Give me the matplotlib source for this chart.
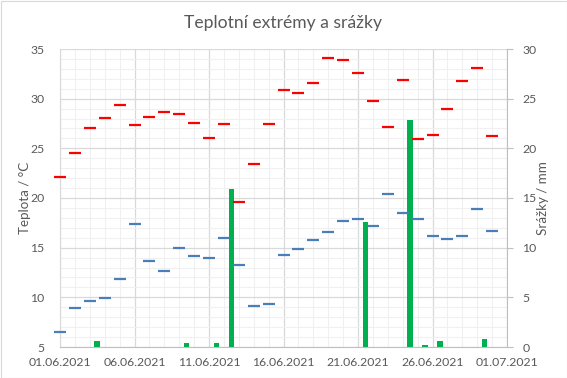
import matplotlib
matplotlib.use("Agg")
import matplotlib.pyplot as plt
import matplotlib.dates as mdates
from matplotlib.ticker import MultipleLocator
import numpy as np
import datetime as dt

plt.rcParams['font.family'] = ['Lato', 'DejaVu Sans']

# ---- data ----
start = dt.date(2021, 6, 1)
dates = [start + dt.timedelta(days=i) for i in range(30)]
t_max = [22.1, 24.5, 27.0, 28.1, 29.4, 27.3, 28.2, 28.7, 28.5, 27.6,
         26.0, 27.4, 19.6, 23.4, 27.5, 30.9, 30.6, 31.6, 34.1, 33.9,
         32.6, 29.8, 27.1, 31.9, 25.9, 26.3, 29.0, 31.8, 33.1, 26.2]
t_min = [6.5, 8.9, 9.6, 9.9, 11.8, 17.4, 13.7, 12.7, 15.0, 14.2,
         14.0, 16.0, 13.3, 9.1, 9.3, 14.3, 14.9, 15.8, 16.6, 17.7,
         17.9, 17.2, 20.4, 18.5, 17.9, 16.2, 15.9, 16.2, 18.9, 16.7]
precip = [0, 0, 0.6, 0, 0, 0, 0, 0, 0.4, 0,
          0.4, 15.9, 0, 0, 0, 0, 0, 0, 0, 0,
          12.6, 0, 0, 22.9, 0.2, 0.6, 0, 0, 0.8, 0]
title = "Teplotní extrémy a srážky"
ylabel_left = "Teplota / °C"
ylabel_right = "Srážky / mm"

# ---- style ----
txt = '#595959'
grid_major = '#D9D9D9'
grid_minor = '#F0F0F0'
axis_col = '#BFBFBF'

fig = plt.figure(figsize=(5.67, 3.78), dpi=100)
fig.patch.set_facecolor('white')
L, R, B, T = 60/567, 507/567, 1-347/378, 1-49/378
ax = fig.add_axes([L, B, R-L, T-B])
ax2 = ax.twinx()   # precipitation (right)
ax3 = ax.twinx()   # temperatures drawn on top

xd = mdates.date2num(dates)
x0 = mdates.date2num(start)
x1 = mdates.date2num(dt.date(2021, 7, 1))

for a in (ax, ax2, ax3):
    a.set_xlim(x0, x1)

ax.set_ylim(5, 35)
ax3.set_ylim(5, 35)
ax2.set_ylim(0, 30)

# grid on base axes
ax.xaxis.set_major_locator(mdates.DayLocator(bymonthday=[1, 6, 11, 16, 21, 26]))
ax.xaxis.set_minor_locator(mdates.DayLocator())
ax.xaxis.set_major_formatter(mdates.DateFormatter('%d.%m.%Y'))
ax.yaxis.set_major_locator(MultipleLocator(5))
ax.yaxis.set_minor_locator(MultipleLocator(1))
ax.grid(which='minor', color=grid_minor, lw=0.8, zorder=0)
ax.grid(which='major', color=grid_major, lw=0.9, zorder=0)
ax.set_axisbelow(True)
ax.tick_params(axis='both', which='both', length=0, colors=txt, labelsize=8.8)
ax.tick_params(axis='x', pad=7)
ax.tick_params(axis='y', pad=11)
for s in ax.spines.values():
    s.set_visible(False)
ax.spines['bottom'].set_visible(True)
ax.spines['bottom'].set_color(axis_col)
ax.spines['left'].set_visible(True)
ax.spines['left'].set_color(grid_major)

# precipitation bars
ax2.bar(xd + 0.5, precip, width=0.38, color='#00B050', zorder=2)
ax2.yaxis.set_major_locator(MultipleLocator(5))
ax2.tick_params(axis='y', which='major', length=4, color=axis_col, colors=txt,
                labelsize=8.8, pad=7)
ax2.tick_params(axis='y', which='major', color=axis_col)
for s in ax2.spines.values():
    s.set_visible(False)
ax2.spines['right'].set_visible(True)
ax2.spines['right'].set_color(axis_col)

# temperatures
ax3.plot(xd, t_max, ls='none', marker='_', ms=8.4, mew=1.6, color='#FF0000', clip_on=False)
ax3.plot(xd, t_min, ls='none', marker='_', ms=8.4, mew=1.6, color='#4A7EBB', clip_on=False)
ax3.yaxis.set_visible(False)
for s in ax3.spines.values():
    s.set_visible(False)

fig.text(0.5, 1-23/378, title, ha='center', va='center', fontsize=12.6, color=txt)
fig.text(25/567, 1-198/378, ylabel_left, ha='center', va='center', rotation=90,
         fontsize=9.6, color=txt)
fig.text(543/567, 1-198/378, ylabel_right, ha='center', va='center', rotation=90,
         fontsize=9.6, color=txt)

# chart border
fig.add_artist(plt.Rectangle((0.5/567, 0.5/378), 1-1/567, 1-1/378, transform=fig.transFigure,
                             fill=False, ec='#D9D9D9', lw=0.8))

fig.savefig('out.png', dpi=100, facecolor='white')
